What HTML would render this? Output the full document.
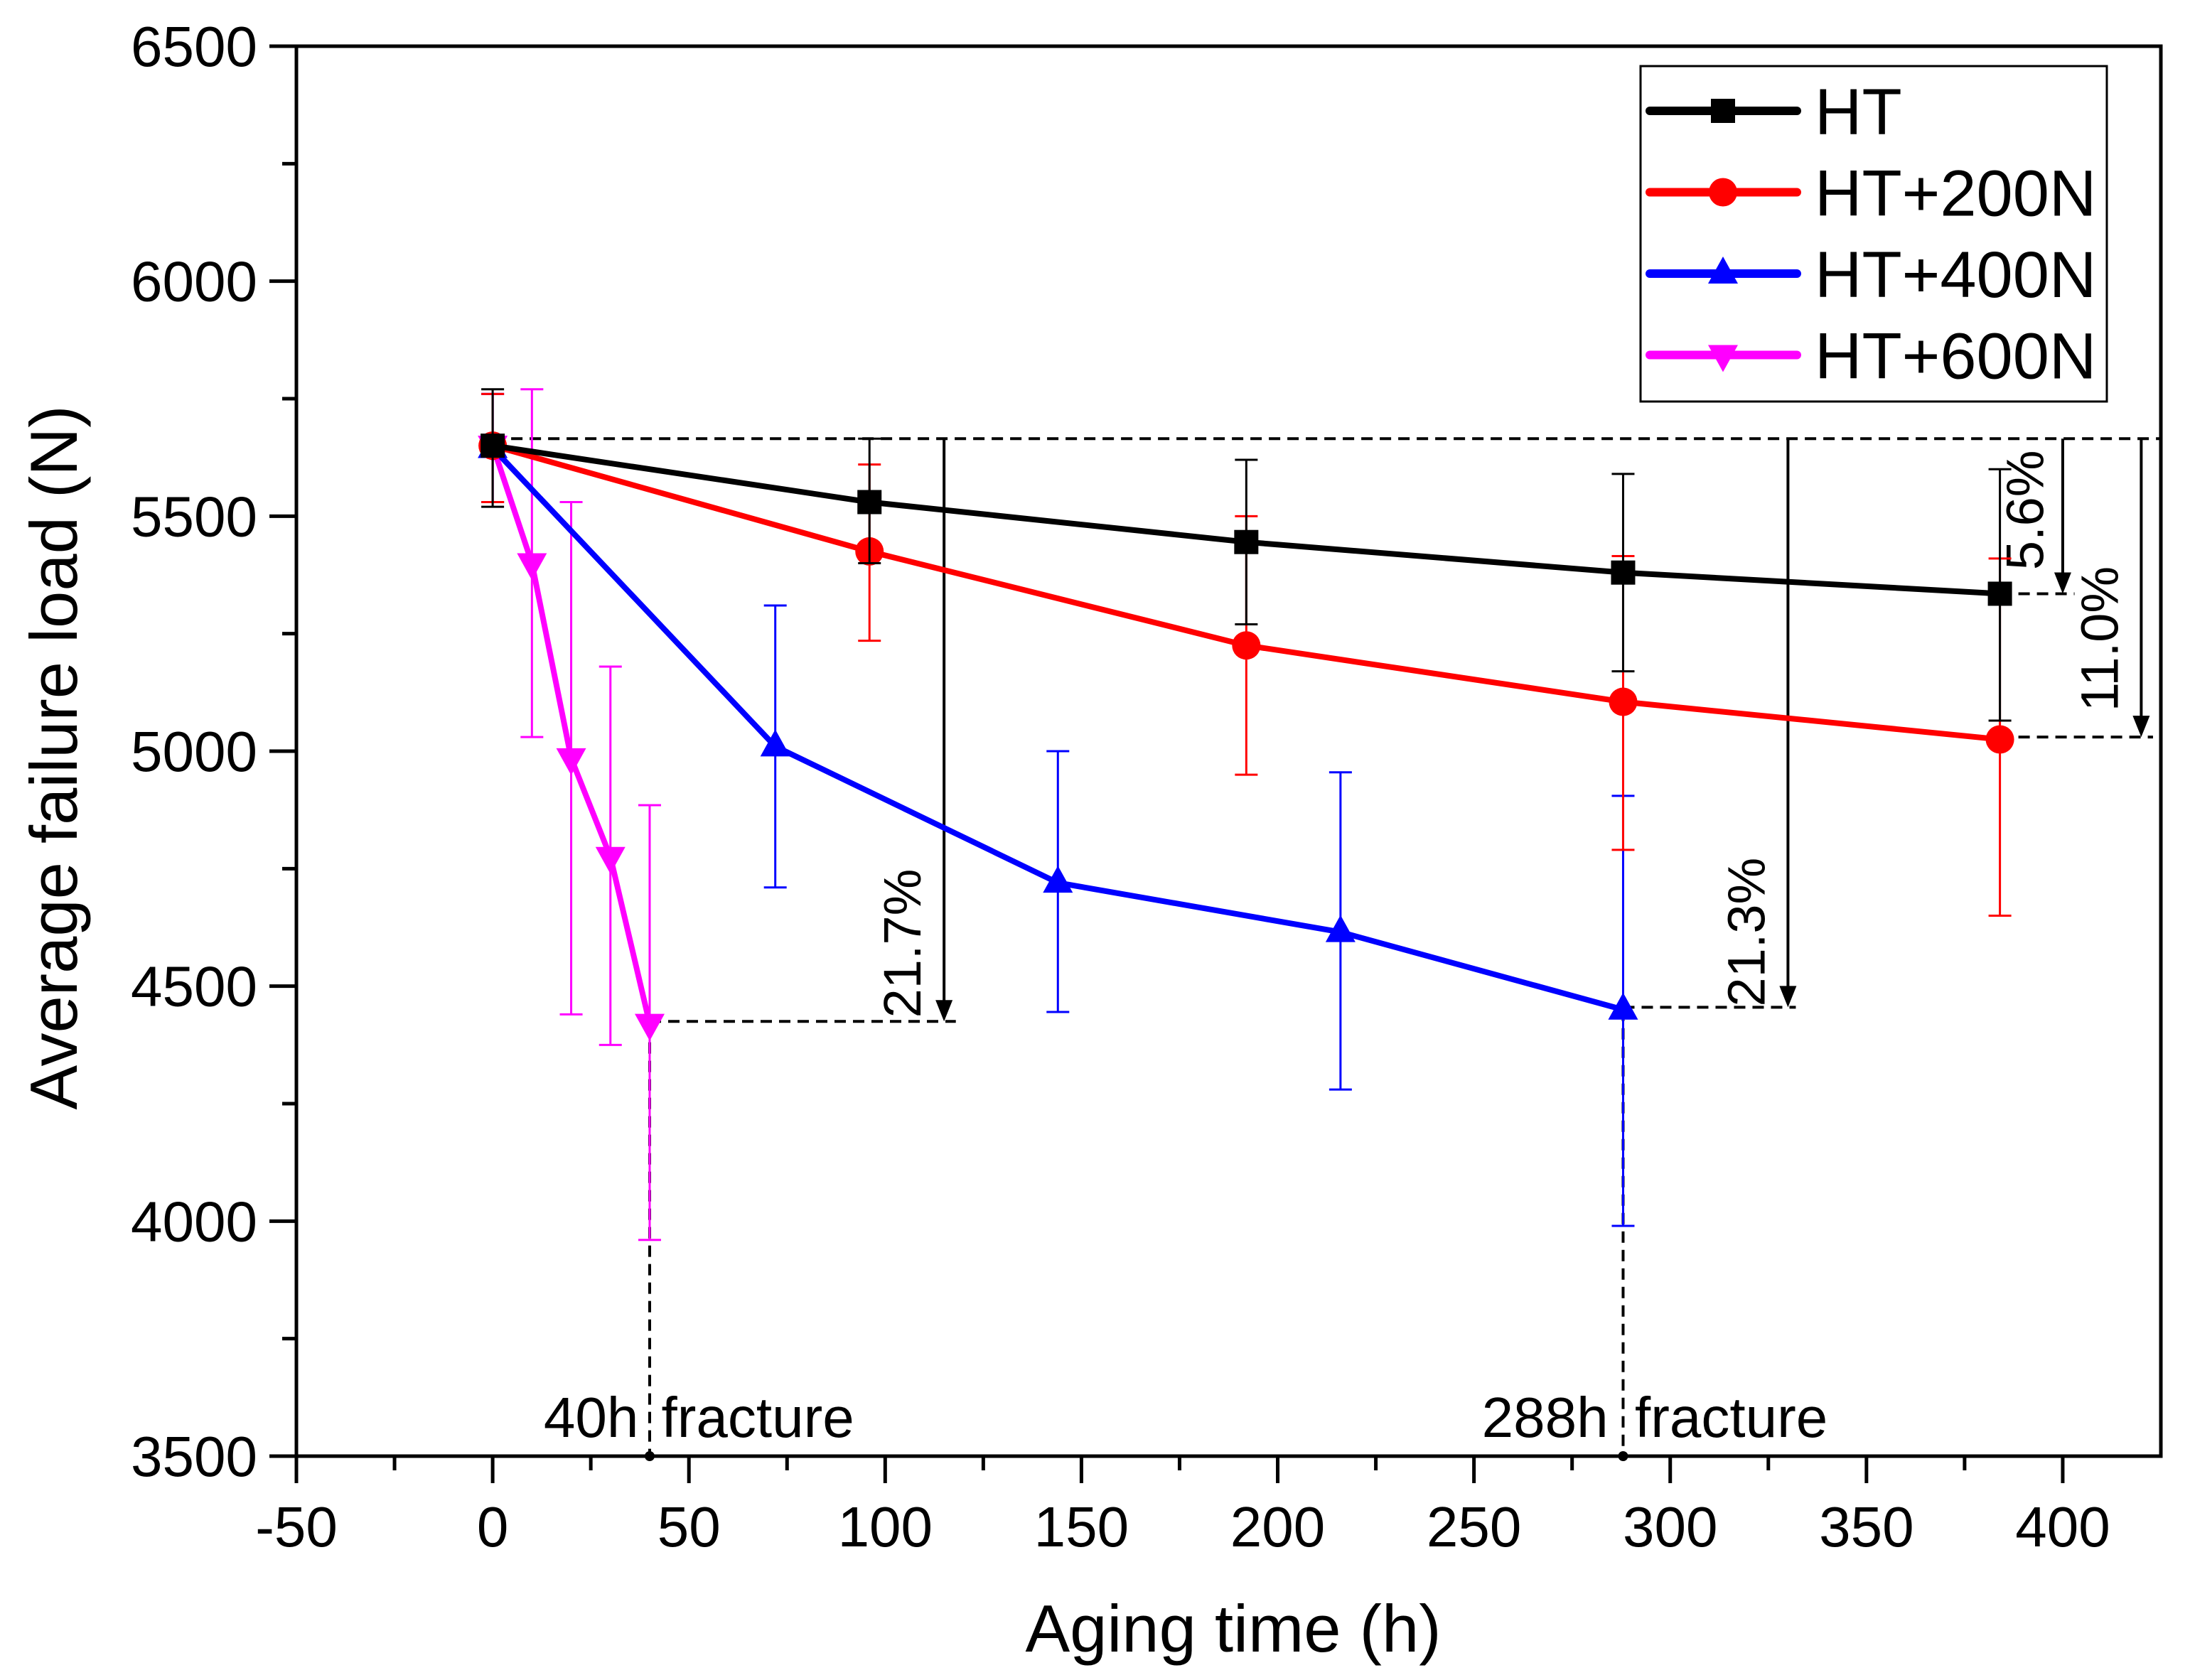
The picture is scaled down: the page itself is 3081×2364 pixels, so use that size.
<!DOCTYPE html>
<html><head><meta charset="utf-8">
<style>
html,body{margin:0;padding:0;background:#fff;}
svg{display:block;font-family:"Liberation Sans",Arial,sans-serif;}
</style></head>
<body>
<svg id="chart" width="3081" height="2364" viewBox="0 0 3081 2364" xmlns="http://www.w3.org/2000/svg"></svg>
<script>
// ---- data ----
const htX = [0, 96, 192, 288, 384];
const htY = [5650, 5530, 5445, 5380, 5335];
const htLo = [5520, 5400, 5270, 5170, 5065];
const htHi = [5770, 5665, 5620, 5590, 5600];

const h200X = [0, 96, 192, 288, 384];
const h200Y = [5650, 5425, 5225, 5105, 5025];
const h200Lo = [5530, 5235, 4950, 4790, 4650];
const h200Hi = [5760, 5610, 5500, 5415, 5410];

const h400X = [0, 72, 144, 216, 288];
const h400Y = [5645, 5010, 4720, 4615, 4450];
const h400Lo = [5530, 4710, 4445, 4280, 3990];
const h400Hi = [5760, 5310, 5000, 4955, 4905];

const h600X = [0, 10, 20, 30, 40];
const h600Y = [5650, 5400, 4985, 4775, 4420];
const h600Lo = [5530, 5030, 4440, 4375, 3960];
const h600Hi = [5760, 5770, 5530, 5180, 4885];

const xTicks = [-50, 0, 50, 100, 150, 200, 250, 300, 350, 400];
const yTicks = [3500, 4000, 4500, 5000, 5500, 6000, 6500];
const seriesNames = ["HT", "HT+200N", "HT+400N", "HT+600N"];

// ---- axes ----
const L = 417, R = 3040, T = 65, B = 2049;
const X0 = -50, X1 = 425, Y0 = 3500, Y1 = 6500;
function sx(v){ return L + (v - X0) / (X1 - X0) * (R - L); }
function sy(v){ return B - (v - Y0) / (Y1 - Y0) * (B - T); }

const NS = "http://www.w3.org/2000/svg";
const svg = document.getElementById("chart");
function mk(tag, attrs, parent){
  const e = document.createElementNS(NS, tag);
  for (const k in attrs) e.setAttribute(k, attrs[k]);
  (parent || svg).appendChild(e);
  return e;
}

// frame
const frame = mk("rect", {x:L, y:T, width:R-L, height:B-T, fill:"none", stroke:"#000", "stroke-width":5});



// x ticks
xTicks.forEach((t, i) => {
  const x = sx(t);
  const tk = mk("line", {x1:x, y1:B, x2:x, y2:B+38, stroke:"#000", "stroke-width":5});
  
  
  if (i < xTicks.length - 1) {
    const mx = sx(t + 25);
    const mt = mk("line", {x1:mx, y1:B, x2:mx, y2:B+20, stroke:"#000", "stroke-width":5});
    
    
  }
  const lb = mk("text", {x:x, y:2176, "font-size":80, "text-anchor":"middle"});
  lb.textContent = t;
  
  
});
// y ticks
yTicks.forEach((t, i) => {
  const y = sy(t);
  const tk = mk("line", {x1:L-38, y1:y, x2:L, y2:y, stroke:"#000", "stroke-width":5});
  
  
  if (i < yTicks.length - 1) {
    const my = sy(t + 250);
    const mt = mk("line", {x1:L-20, y1:my, x2:L, y2:my, stroke:"#000", "stroke-width":5});
    
    
  }
  const lb = mk("text", {x:362, y:y+28, "font-size":80, "text-anchor":"end"});
  lb.textContent = t;
  
  
});

// axis titles
const xt = mk("text", {x:1735, y:2324, "font-size":94, "text-anchor":"middle"});
xt.textContent = "Aging time (h)";


const yt = mk("text", {x:0, y:0, "font-size":94, "text-anchor":"middle", transform:"translate(108,1066) rotate(-90)"});
yt.textContent = "Average failure load  (N)";



// ---- annotations ----
const dash = {stroke:"#000", "stroke-width":4, "stroke-dasharray":"16 10", fill:"none"};
function dl(x1,y1,x2,y2,name){
  const e = mk("line", Object.assign({x1:sx(x1),y1:sy(y1),x2:sx(x2),y2:sy(y2)}, dash));
  
  
}
dl(0, 5665, 425, 5665, 'reference-dashed-line');
dl(40, 4425, 118, 4425, 'dashed-40h-level');
dl(288, 4455, 332, 4455, 'dashed-288h-level');
dl(384, 5335, 403, 5335, 'dashed-ht-level');
dl(384, 5030, 423, 5030, 'dashed-200n-level');
dl(40, 4420, 40, 3500, 'dashed-40h-vertical');
dl(288, 4450, 288, 3500, 'dashed-288h-vertical');
[40, 288].forEach(v => {
  const d = mk("circle", {cx:sx(v), cy:B, r:7, fill:"#000"});
  
  
});
function arrow(xv, yTop, yBot, name){
  const x = sx(xv), y1 = sy(yTop), y2 = sy(yBot);
  const l = mk("line", {x1:x, y1:y1, x2:x, y2:y2-22, stroke:"#000", "stroke-width":4});
  
  
  const h = mk("path", {d:`M${x-12},${y2-30} L${x+12},${y2-30} L${x},${y2} Z`, fill:"#000"});
  
  
}
arrow(115, 5665, 4425, 'arrow-21-7');
arrow(330, 5665, 4455, 'arrow-21-3');
arrow(400, 5665, 5335, 'arrow-5-6');
arrow(420, 5665, 5030, 'arrow-11-0');
function rlabel(xv, yv, txt, name){
  const t = mk("text", {x:0, y:0, "font-size":74, "text-anchor":"middle", transform:`translate(${sx(xv)},${sy(yv)}) rotate(-90)`});
  t.textContent = txt;
  
  
}
rlabel(109, 4591, "21.7%", 'label-21-7');
rlabel(324, 4615, "21.3%", 'label-21-3');
rlabel(395, 5513, "5.6%", 'label-5-6');
rlabel(414, 5239, "11.0%", 'label-11-0');
const f1a = mk("text", {x:sx(13), y:2022, "font-size":80});
f1a.textContent = "40h";


const f1b = mk("text", {x:sx(43), y:2022, "font-size":80});
f1b.textContent = "fracture";


const f2a = mk("text", {x:sx(252), y:2022, "font-size":80});
f2a.textContent = "288h";


const f2b = mk("text", {x:sx(291), y:2022, "font-size":80});
f2b.textContent = "fracture";



// ---- series ----
function marker(shape, x, y, color, parent){
  let e;
  if (shape === "square") e = mk("rect", {x:x-17, y:y-17, width:34, height:34, fill:color}, parent);
  else if (shape === "circle") e = mk("circle", {cx:x, cy:y, r:20, fill:color}, parent);
  else if (shape === "up") e = mk("path", {d:`M${x},${y-24} L${x+21},${y+14} L${x-21},${y+14} Z`, fill:color}, parent);
  else e = mk("path", {d:`M${x},${y+24} L${x+21},${y-14} L${x-21},${y-14} Z`, fill:color}, parent);
  return e;
}
function series(xs, ys, lo, hi, color, shape, name){
  const g = mk("g", {});
  
  
  xs.forEach((v, i) => {
    const x = sx(v);
    const eb = mk("path", {d:`M${x},${sy(lo[i])} L${x},${sy(hi[i])} M${x-16},${sy(lo[i])} L${x+16},${sy(lo[i])} M${x-16},${sy(hi[i])} L${x+16},${sy(hi[i])}`, stroke:color, "stroke-width":3, fill:"none"}, g);
    
    
  });
  const pl = mk("polyline", {points: xs.map((v,i)=>sx(v)+","+sy(ys[i])).join(" "), fill:"none", stroke:color, "stroke-width":8, "stroke-linejoin":"round"}, g);
  
  
  xs.forEach((v, i) => {
    const m = marker(shape, sx(v), sy(ys[i]), color, g);
    
    
  });
}
series(h600X, h600Y, h600Lo, h600Hi, "#ff00ff", "down", 'ht-600n');
series(h400X, h400Y, h400Lo, h400Hi, "#0000ff", "up", 'ht-400n');
series(h200X, h200Y, h200Lo, h200Hi, "#ff0000", "circle", 'ht-200n');
series(htX, htY, htLo, htHi, "#000000", "square", 'ht');

// ---- legend ----
const lg = mk("g", {});


const lbox = mk("rect", {x:2308, y:93, width:656, height:472, fill:"#fff", stroke:"#000", "stroke-width":3}, lg);


const colors = ["#000000", "#ff0000", "#0000ff", "#ff00ff"];
const shapes = ["square", "circle", "up", "down"];
seriesNames.forEach((n, i) => {
  const y = 156 + i * 114.5;
  const e = mk("g", {}, lg);
  
  
  mk("line", {x1:2321, y1:y, x2:2528, y2:y, stroke:colors[i], "stroke-width":12, "stroke-linecap":"round"}, e);
  marker(shapes[i], 2424, y, colors[i], e);
  const t = mk("text", {x:2553, y:y+33, "font-size":92}, e);
  t.textContent = n;
});
</script>
</body></html>
